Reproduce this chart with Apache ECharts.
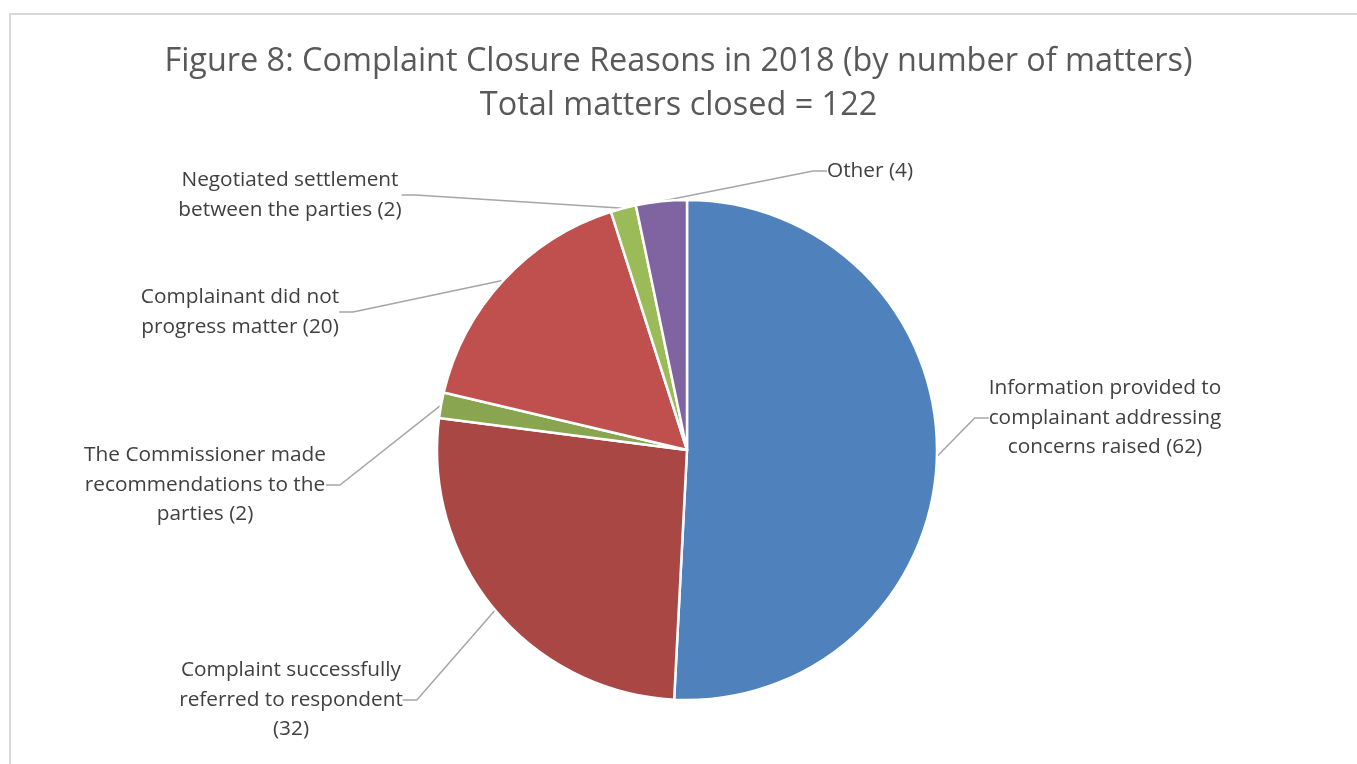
<!DOCTYPE html>
<html>
<head>
<meta charset="utf-8">
<script src="https://cdn.jsdelivr.net/npm/echarts@6/dist/echarts.min.js"></script>
<style>
html,body{margin:0;padding:0;background:#fff;}
#chart{width:1357px;height:764px;}
</style>
</head>
<body>
<div id="chart"></div>
<script>
const categories = [
  "Information provided to\ncomplainant addressing\nconcerns raised",
  "Complaint successfully\nreferred to respondent\n",
  "The Commissioner made\nrecommendations to the\nparties",
  "Complainant did not\nprogress matter",
  "Negotiated settlement\nbetween the parties",
  "Other"
];
const values = [62, 32, 2, 20, 2, 4];
const colors = ["#4F81BD", "#A94744", "#8AA550", "#C0504D", "#9BBB59", "#8064A2"];
const labelPositions = [[1105, 418], [291, 700], [205, 485], [240, 312], [290, 195], [870, 171]];
const titleText = "Figure 8: Complaint Closure Reasons in 2018 (by number of matters)\nTotal matters closed = 122";

const chart = echarts.init(document.getElementById('chart'));
const data = categories.map((c, i) => ({
  name: c,
  value: values[i],
  itemStyle: { color: colors[i] }
}));

chart.setOption({
  animation: false,
  backgroundColor: '#ffffff',
  graphic: [{
    type: 'rect',
    shape: { x: 10, y: 14, width: 1400, height: 800 },
    style: { fill: 'none', stroke: '#D9D9D9', lineWidth: 2 },
    silent: true
  }],
  title: {
    text: titleText,
    left: 'center',
    top: 35,
    textStyle: {
      fontFamily: 'Open Sans',
      fontSize: 32.4,
      fontWeight: 'normal',
      color: '#595959',
      lineHeight: 44
    }
  },
  series: [{
    type: 'pie',
    center: [687, 450],
    radius: 250,
    startAngle: 90,
    clockwise: true,
    avoidLabelOverlap: false,
    data: data,
    itemStyle: { borderColor: '#ffffff', borderWidth: 2.5 },
    label: {
      show: true,
      fontFamily: 'Open Sans',
      fontSize: 20.8,
      color: '#404040',
      lineHeight: 29.5,
      formatter: function (p) {
        const n = p.name;
        if (n.endsWith('\n')) return n + '(' + p.value + ')';
        return n + ' (' + p.value + ')';
      }
    },
    labelLine: {
      show: true,
      length: 10,
      length2: 14,
      lineStyle: { color: '#A6A6A6', width: 1.5 }
    },
    labelLayout: function (params) {
      const p = labelPositions[params.dataIndex];
      return { x: p[0], y: p[1], align: 'center', verticalAlign: 'middle' };
    },
    emphasis: { disabled: true }
  }]
});
</script>
</body>
</html>
